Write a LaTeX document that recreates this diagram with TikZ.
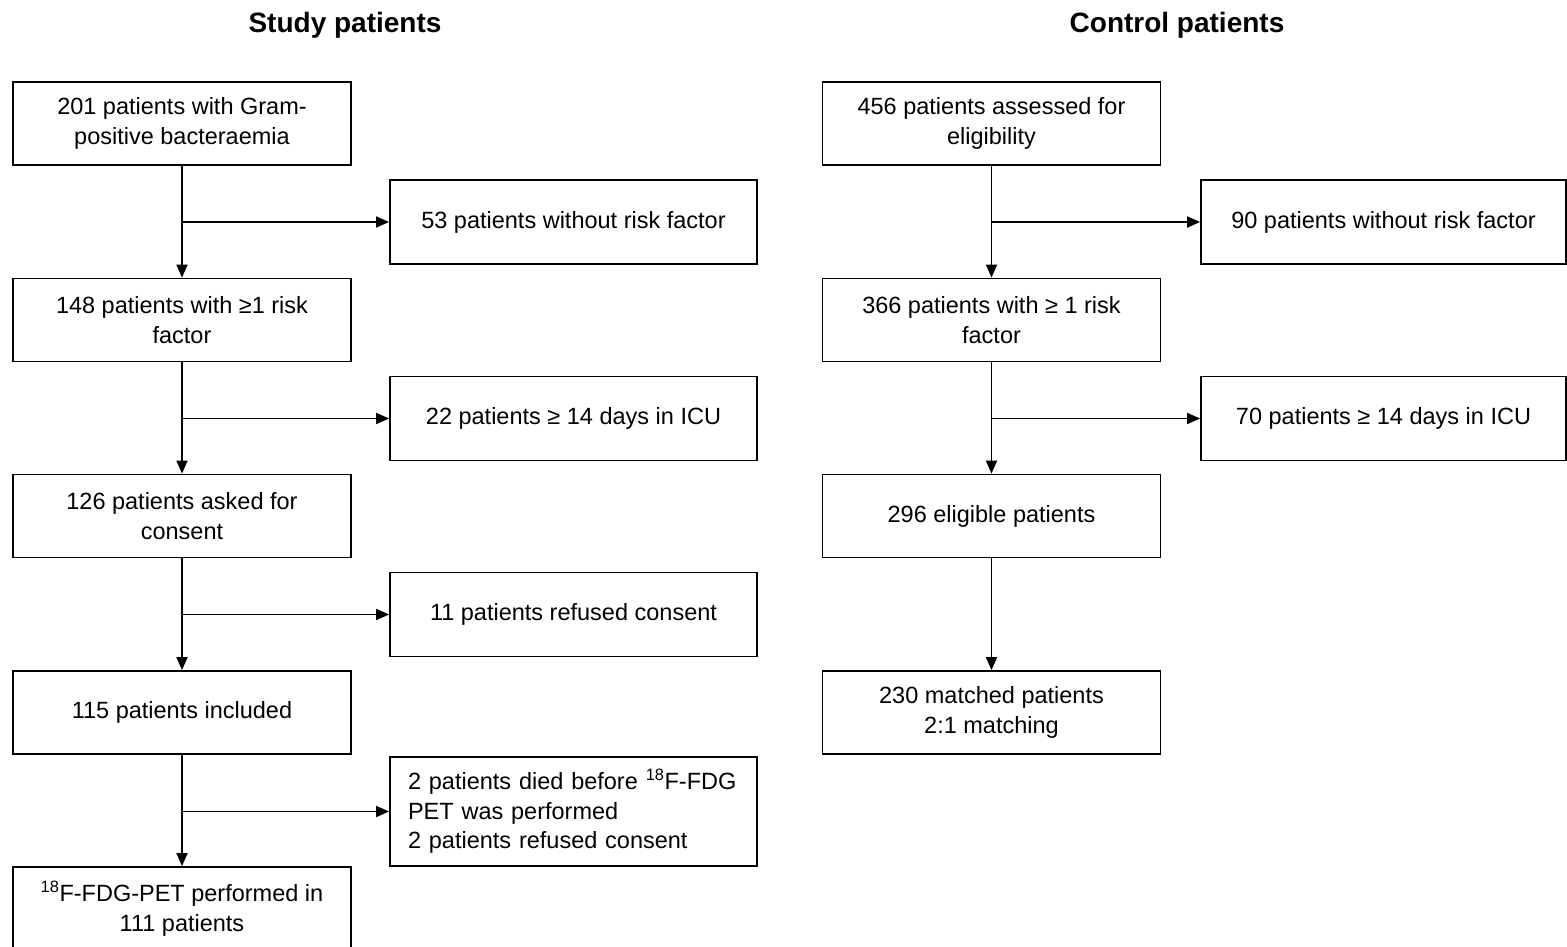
\documentclass[tikz,border=0pt]{standalone}
\usepackage{fontspec}
\setmainfont{Liberation Sans}
\usetikzlibrary{arrows.meta}
\begin{document}
\begin{tikzpicture}[x=1pt,y=-1pt,
  box/.style={draw, line width=1.8pt, minimum width=338pt, minimum height=83pt, inner sep=0pt, align=center, font=\fontsize{23.5}{29.5}\selectfont},
  side/.style={draw, line width=1.8pt, minimum width=367pt, minimum height=84pt, inner sep=0pt, align=center, font=\fontsize{23.5}{29.5}\selectfont},
  arr/.style={line width=1.8pt, -{Triangle[length=13pt,width=11pt]}},
  ttl/.style={font=\bfseries\fontsize{28}{32}\selectfont}]
\useasboundingbox[fill=white] (0,0) rectangle (1567,947);
% titles
\node[ttl] (t1) at (345,25) {Study patients};
\node[ttl] (t2) at (1177,25) {Control patients};
% study column
\node[box] (L1) at (182,123.5) {201 patients with Gram-\\positive bacteraemia};
\node[side] (S1) at (573.5,222) {53 patients without risk factor};
\node[box] (L2) at (182,320) {148 patients with ≥1 risk\\factor};
\node[side] (S2) at (573.5,418.5) {22 patients ≥ 14 days in ICU};
\node[box] (L3) at (182,516) {126 patients asked for\\consent};
\node[side] (S3) at (573.5,614.5) {11 patients refused consent};
\node[box] (L4) at (182,712.5) {115 patients included};
\node[side, minimum height=109pt, align=left, text width=331pt, inner xsep=18pt] (S4) at (573.5,811.5) {2 patients died before \textsuperscript{18}F-FDG\\PET was performed\\2 patients refused consent};
\node[box] (L5) at (182,908.5) {\textsuperscript{18}F-FDG-PET performed in\\111 patients};
% control column
\node[box] (C1) at (991.5,123.5) {456 patients assessed for\\eligibility};
\node[side, minimum width=365pt] (CS1) at (1383.5,222) {90 patients without risk factor};
\node[box] (C2) at (991.5,320) {366 patients with ≥ 1 risk\\factor};
\node[side, minimum width=365pt] (CS2) at (1383.5,418.5) {70 patients ≥ 14 days in ICU};
\node[box] (C3) at (991.5,516) {296 eligible patients};
\node[box] (C4) at (991.5,712.5) {230 matched patients\\2:1 matching};
% connectors study
\draw[arr] (L1) -- (L2);
\draw[arr] (L2) -- (L3);
\draw[arr] (L3) -- (L4);
\draw[arr] (L4) -- (L5);
\draw[arr] (L1.south |- S1.west) -- (S1.west);
\draw[arr] (L2.south |- S2.west) -- (S2.west);
\draw[arr] (L3.south |- S3.west) -- (S3.west);
\draw[arr] (L4.south |- S4.west) -- (S4.west);
% connectors control
\draw[arr] (C1) -- (C2);
\draw[arr] (C2) -- (C3);
\draw[arr] (C3) -- (C4);
\draw[arr] (C1.south |- CS1.west) -- (CS1.west);
\draw[arr] (C2.south |- CS2.west) -- (CS2.west);
\end{tikzpicture}
\end{document}
